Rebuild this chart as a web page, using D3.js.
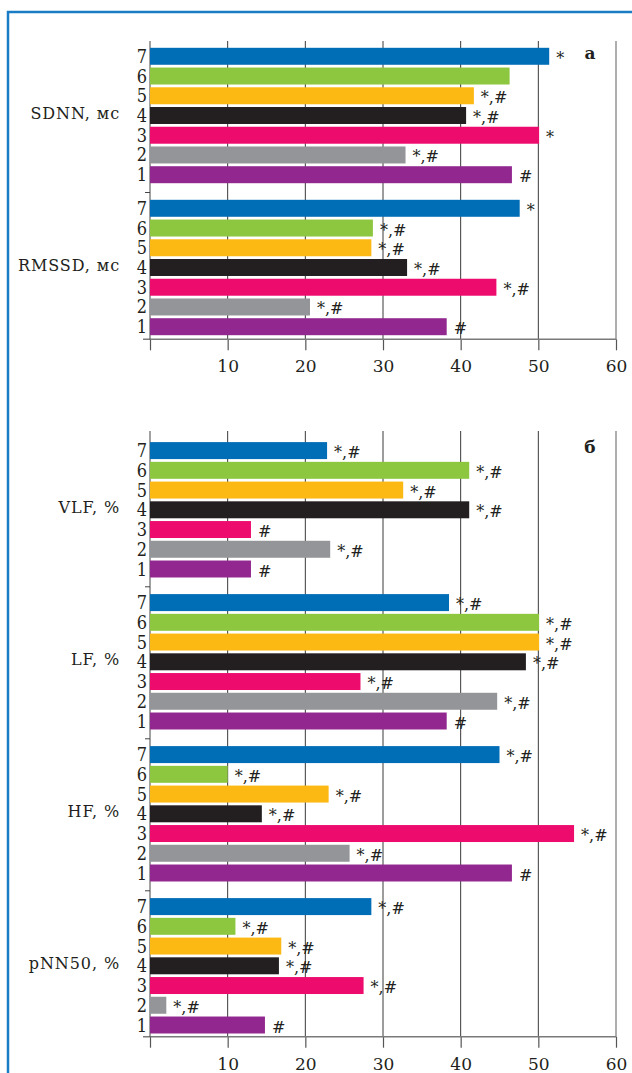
<!DOCTYPE html>
<html>
<head>
<meta charset="utf-8">
<script src="https://cdn.jsdelivr.net/npm/d3@7"></script>
<style>
  body { margin: 0; background: #fff; }
  text { font-family: "DejaVu Serif", serif; fill: #231f20; }
</style>
</head>
<body>
<div class="vis-bars"></div>
<script>
// bar order from top to bottom inside each group
const categories = ['7', '6', '5', '4', '3', '2', '1'];
const catColors = ['#006db7', '#8dc63f', '#fdb913', '#231f20', '#ed0c6e', '#939598', '#92278f'];
const ticks = [10, 20, 30, 40, 50, 60];

// panel a
const groupsA = ['SDNN, мс', 'RMSSD, мс'];
const sdnn = [51.4, 46.3, 41.7, 40.7, 50.1, 32.9, 46.6];
const sdnnMarks = ['*', '', '*,#', '*,#', '*', '*,#', '#'];
const rmssd = [47.6, 28.7, 28.5, 33.1, 44.6, 20.6, 38.2];
const rmssdMarks = ['*', '*,#', '*,#', '*,#', '*,#', '*,#', '#'];

// panel б
const groupsB = ['VLF, %', 'LF, %', 'HF, %', 'pNN50, %'];
const vlf = [22.8, 41.1, 32.6, 41.1, 13.0, 23.2, 13.0];
const vlfMarks = ['*,#', '*,#', '*,#', '*,#', '#', '*,#', '#'];
const lf = [38.5, 50.1, 50.1, 48.4, 27.1, 44.7, 38.2];
const lfMarks = ['*,#', '*,#', '*,#', '*,#', '*,#', '*,#', '#'];
const hf = [45.0, 10.0, 23.0, 14.4, 54.6, 25.7, 46.6];
const hfMarks = ['*,#', '*,#', '*,#', '*,#', '*,#', '*,#', '#'];
const pnn50 = [28.5, 11.0, 16.9, 16.6, 27.5, 2.1, 14.8];
const pnn50Marks = ['*,#', '*,#', '*,#', '*,#', '*,#', '*,#', '#'];

const W = 632, H = 1073;
const groupStep = 152;
const svg = d3.select('.vis-bars').append('svg')
    .attr('width', W).attr('height', H);

// blue frame, open to the right/bottom like the cropped figure
svg.append('rect')
    .attr('x', 8).attr('y', 12)
    .attr('width', W + 20).attr('height', H + 20)
    .attr('fill', 'none')
    .attr('stroke', '#1a7cc4')
    .attr('stroke-width', 2.5);

const x = d3.scaleLinear().domain([0, 60]).range([150, 616]);
const color = d3.scaleOrdinal().domain(categories).range(catColors);

function panel(groups, series, marks, gridTop, groupTop, axisY, letter) {
    const g = svg.append('g');
    const yGroup = d3.scaleBand().domain(groups)
        .range([groupTop, groupTop + groups.length * groupStep]);
    const yBar = d3.scaleBand().domain(categories)
        .range([0, 150])
        .paddingInner(0.14).paddingOuter(0.37);

    // vertical grid
    g.append('g').selectAll('line')
        .data(ticks)
        .join('line')
        .attr('x1', d => x(d)).attr('x2', d => x(d))
        .attr('y1', gridTop).attr('y2', axisY)
        .attr('stroke', d => d === 60 ? '#9a9a9a' : '#3a3a3a')
        .attr('stroke-width', d => d === 60 ? 1.6 : 1);

    // bottom axis
    g.append('g')
        .attr('transform', `translate(0,${axisY})`)
        .call(d3.axisBottom(x).tickValues([0].concat(ticks)).tickSize(11).tickPadding(10)
            .tickFormat(d => d === 0 ? '' : d))
        .call(a => a.select('.domain').remove())
        .call(a => a.selectAll('.tick line').attr('stroke', '#555').attr('stroke-width', 1.2))
        .call(a => a.selectAll('.tick text')
            .attr('font-family', '"DejaVu Serif", serif')
            .attr('font-size', 17).attr('fill', '#231f20'));
    g.append('line')
        .attr('x1', x(0) - 7).attr('x2', x(60))
        .attr('y1', axisY).attr('y2', axisY)
        .attr('stroke', '#7a7a7a').attr('stroke-width', 1.6);

    // left axis + group separators
    g.append('line')
        .attr('x1', x(0)).attr('x2', x(0))
        .attr('y1', gridTop).attr('y2', axisY)
        .attr('stroke', '#444').attr('stroke-width', 1);
    g.append('g').selectAll('line')
        .data(groups.slice(1))
        .join('line')
        .attr('x1', x(0) - 5).attr('x2', x(0))
        .attr('y1', d => yGroup(d)).attr('y2', d => yGroup(d))
        .attr('stroke', '#444');

    groups.forEach((name, gi) => {
        const rows = categories.map((c, i) => ({cat: c, value: series[gi][i], mark: marks[gi][i]}));
        const gg = g.append('g').attr('transform', `translate(0,${yGroup(name)})`);

        gg.selectAll('rect')
            .data(rows)
            .join('rect')
            .attr('x', x(0))
            .attr('y', d => yBar(d.cat))
            .attr('width', d => x(d.value) - x(0))
            .attr('height', yBar.bandwidth())
            .attr('fill', d => color(d.cat));

        gg.selectAll('.num')
            .data(rows)
            .join('text')
            .attr('class', 'num')
            .attr('x', x(0) - 3)
            .attr('y', d => yBar(d.cat) + yBar.bandwidth() / 2 + 6.5)
            .attr('text-anchor', 'end')
            .attr('font-size', 18)
            .style('font-stretch', 'condensed')
            .text(d => d.cat);

        gg.selectAll('.mark')
            .data(rows)
            .join('text')
            .attr('class', 'mark')
            .attr('x', d => x(d.value) + 7)
            .attr('y', d => yBar(d.cat) + yBar.bandwidth() / 2 + 7.5)
            .attr('font-size', 16)
            .attr('fill', '#333')
            .text(d => d.mark);

        gg.append('text')
            .attr('x', 120)
            .attr('y', yBar('4') + yBar.bandwidth() / 2 + 3)
            .attr('text-anchor', 'end')
            .attr('font-size', 16)
            .attr('letter-spacing', 0.9)
            .text(name);
    });

    svg.append('text')
        .attr('x', 590).attr('y', groupTop + 18)
        .attr('text-anchor', 'middle')
        .attr('font-size', 17)
        .attr('font-weight', 'bold')
        .text(letter);
}

panel(groupsA, [sdnn, rmssd], [sdnnMarks, rmssdMarks], 41, 40.5, 339.3, 'а');
panel(groupsB, [vlf, lf, hf, pnn50], [vlfMarks, lfMarks, hfMarks, pnn50Marks], 431, 434.8, 1036.7, 'б');
</script>
</body>
</html>
